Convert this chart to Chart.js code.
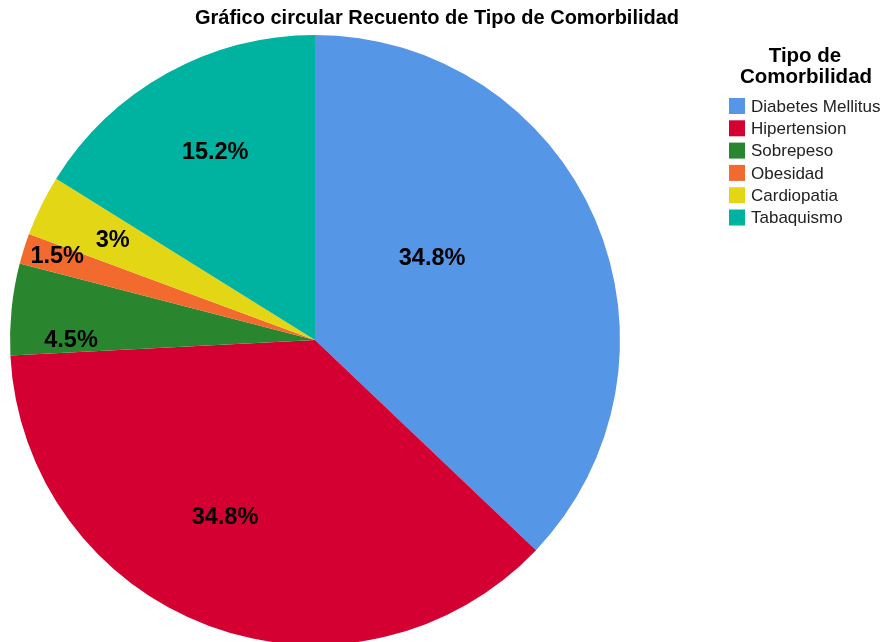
<!DOCTYPE html>
<html>
<head>
<meta charset="utf-8">
<script src="https://cdn.jsdelivr.net/npm/chart.js@4.4.1/dist/chart.umd.min.js"></script>
<style>
  html, body { margin: 0; padding: 0; background: #fff; }
  #wrap { width: 882px; height: 642px; position: relative; }
</style>
</head>
<body>
<div id="wrap"><canvas id="pieChart" width="882" height="642"></canvas></div>
<script>
// Data
const categories = ['Diabetes Mellitus', 'Hipertension', 'Sobrepeso', 'Obesidad', 'Cardiopatia', 'Tabaquismo'];
const counts = [23, 23, 3, 1, 2, 10];
const percentLabels = ['34.8%', '34.8%', '4.5%', '1.5%', '3%', '15.2%'];
const sliceColors = ['#5596e6', '#d50032', '#2a862e', '#f26a2e', '#e3d614', '#00b3a0'];

// where each percentage sits inside its slice: fraction along the arc, fraction of radius
const labelAngleFrac = [0.41, 0.55, 0.17, 0.64, 0.52, 0.52];
const labelRadiusFrac = [0.47, 0.65, 0.80, 0.89, 0.74, 0.70];

const FONT = '"Liberation Sans", Arial, sans-serif';

const overlayPlugin = {
    id: 'overlay',
    afterDraw(chart) {
        const c = chart.ctx;
        c.save();
        // title
        c.fillStyle = '#000';
        c.font = 'bold 20px ' + FONT;
        c.textAlign = 'center';
        c.textBaseline = 'middle';
        c.fillText('Gráfico circular Recuento de Tipo de Comorbilidad', 437, 18);

        // slice labels
        const meta = chart.getDatasetMeta(0);
        c.font = 'bold 23.5px ' + FONT;
        meta.data.forEach((arc, i) => {
            const p = arc.getProps(['x', 'y', 'startAngle', 'endAngle', 'outerRadius'], true);
            const a = p.startAngle + (p.endAngle - p.startAngle) * labelAngleFrac[i];
            const r = p.outerRadius * labelRadiusFrac[i];
            c.fillStyle = '#000';
            c.fillText(percentLabels[i], p.x + Math.cos(a) * r, p.y + Math.sin(a) * r + 1);
        });

        // legend
        c.fillStyle = '#000';
        c.font = 'bold 20.5px ' + FONT;
        c.fillText('Tipo de', 805, 56);
        c.fillText('Comorbilidad', 806, 77);
        c.textAlign = 'left';
        c.font = '17px ' + FONT;
        categories.forEach((name, i) => {
            const y = 106 + i * 22.3;
            c.fillStyle = sliceColors[i];
            c.fillRect(729, y - 8, 16, 16);
            c.fillStyle = '#222';
            c.fillText(name, 751, y + 1);
        });
        c.restore();
    }
};

new Chart(document.getElementById('pieChart'), {
    type: 'pie',
    data: {
        labels: categories,
        datasets: [{
            data: counts,
            backgroundColor: sliceColors,
            borderWidth: 0,
            radius: 305
        }]
    },
    options: {
        responsive: false,
        animation: false,
        layout: { padding: { left: 10, right: 262, top: 38, bottom: 0 } },
        plugins: {
            legend: { display: false },
            title: { display: false },
            tooltip: { enabled: false }
        }
    },
    plugins: [overlayPlugin]
});
</script>
</body>
</html>
